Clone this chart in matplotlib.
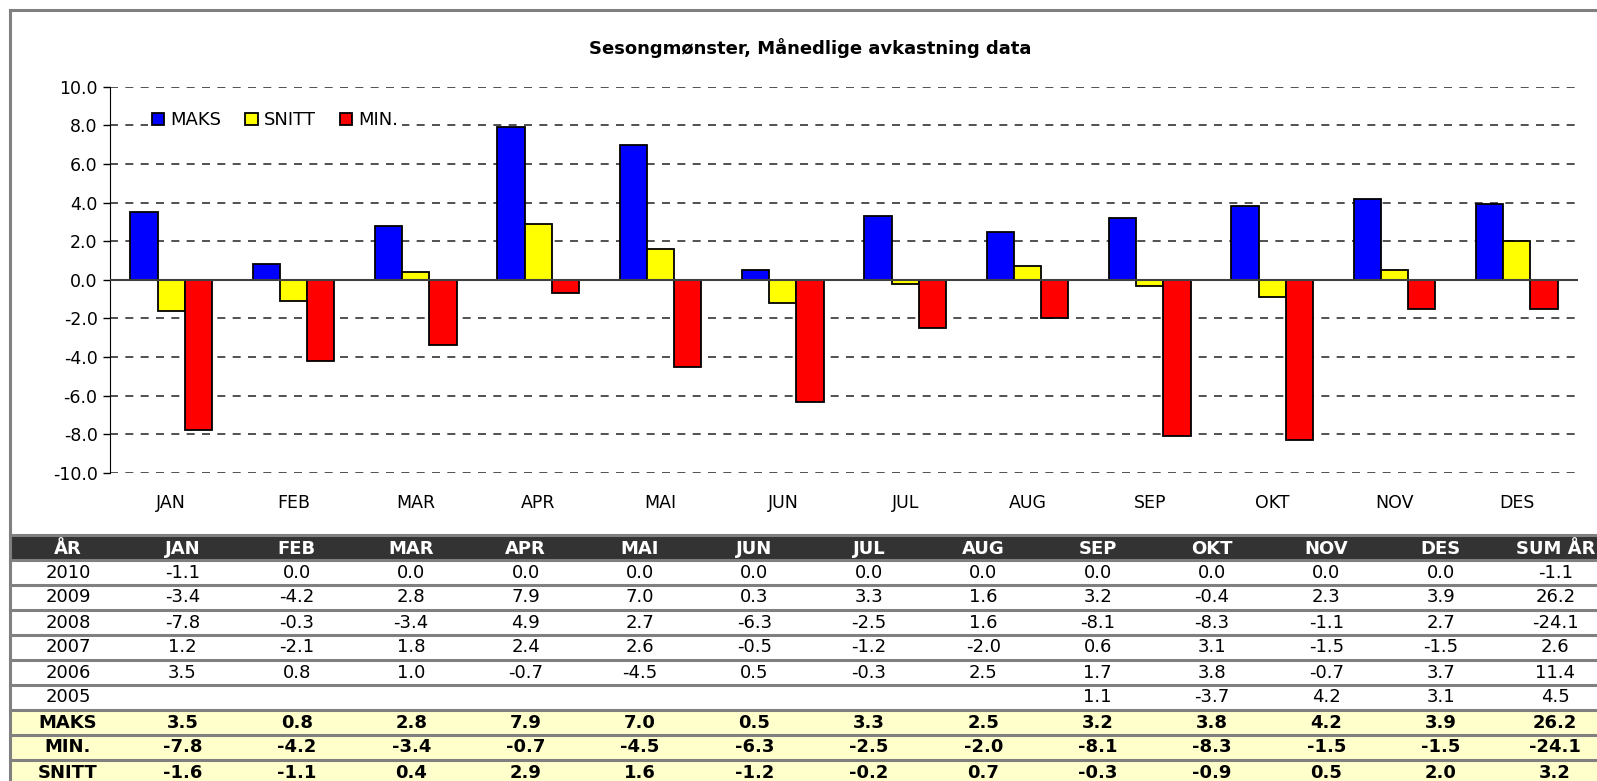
import numpy as np
import matplotlib.pyplot as plt
from matplotlib.lines import Line2D

plt.rcParams['font.family'] = ['DejaVu Sans']

months = ['JAN', 'FEB', 'MAR', 'APR', 'MAI', 'JUN', 'JUL', 'AUG', 'SEP', 'OKT', 'NOV', 'DES']
maks = [3.5, 0.8, 2.8, 7.9, 7.0, 0.5, 3.3, 2.5, 3.2, 3.8, 4.2, 3.9]
snitt = [-1.6, -1.1, 0.4, 2.9, 1.6, -1.2, -0.2, 0.7, -0.3, -0.9, 0.5, 2.0]
mins = [-7.8, -4.2, -3.4, -0.7, -4.5, -6.3, -2.5, -2.0, -8.1, -8.3, -1.5, -1.5]

years = ['2010', '2009', '2008', '2007', '2006', '2005']
year_vals = [
    [-1.1, 0.0, 0.0, 0.0, 0.0, 0.0, 0.0, 0.0, 0.0, 0.0, 0.0, 0.0],
    [-3.4, -4.2, 2.8, 7.9, 7.0, 0.3, 3.3, 1.6, 3.2, -0.4, 2.3, 3.9],
    [-7.8, -0.3, -3.4, 4.9, 2.7, -6.3, -2.5, 1.6, -8.1, -8.3, -1.1, 2.7],
    [1.2, -2.1, 1.8, 2.4, 2.6, -0.5, -1.2, -2.0, 0.6, 3.1, -1.5, -1.5],
    [3.5, 0.8, 1.0, -0.7, -4.5, 0.5, -0.3, 2.5, 1.7, 3.8, -0.7, 3.7],
    [None, None, None, None, None, None, None, None, 1.1, -3.7, 4.2, 3.1],
]
sum_aar = [-1.1, 26.2, -24.1, 2.6, 11.4, 4.5]
sum_stats = [26.2, -24.1, 3.2]
stat_names = ['MAKS', 'MIN.', 'SNITT']

W, H = 1597, 781
fig = plt.figure(figsize=(W / 100, H / 100), dpi=100)

# outer frame (right and bottom are cut off in the reference)
fig.add_artist(Line2D([10 / W, 1], [1 - 10 / H, 1 - 10 / H], color='#808080', lw=2.2))
fig.add_artist(Line2D([10 / W, 10 / W], [0, 1 - 10 / H], color='#808080', lw=2.2))

# ---- bar chart
ax = fig.add_axes([110 / W, 1 - 473 / H, 1468 / W, (473 - 86.6) / H])
x = np.arange(len(months))
w = 0.2225
ax.bar(x - w, maks, w, color='#0000ff', edgecolor='black', lw=1.3, label='MAKS', zorder=3)
ax.bar(x, snitt, w, color='#ffff00', edgecolor='black', lw=1.3, label='SNITT', zorder=3)
ax.bar(x + w, mins, w, color='#ff0000', edgecolor='black', lw=1.3, label='MIN.', zorder=3)

ax.set_xlim(-0.5, 11.5)
ax.set_ylim(-10, 10)
ax.set_yticks(np.arange(-10, 11, 2))
ax.set_yticklabels([f'{v:.1f}' for v in np.arange(-10, 11, 2)], fontsize=12.5)
ax.set_xticks(x)
ax.set_xticklabels(months, fontsize=12.5)
ax.tick_params(axis='x', length=0, pad=15)
ax.tick_params(axis='y', length=5, width=1, direction='out', pad=4)
ax.grid(axis='y', color='#333333', lw=1.2, linestyle=(0, (4.8, 4.4)), zorder=1)
ax.axhline(0, color='#404040', lw=1.5, zorder=4)
for s in ['top', 'right', 'bottom']:
    ax.spines[s].set_visible(False)
ax.spines['left'].set_color('black')

leg = ax.legend(loc='center left', bbox_to_anchor=(0.026, 0.913), ncol=3, fontsize=13,
                frameon=True, handlelength=0.7, handleheight=0.7, handletextpad=0.35,
                columnspacing=1.3, borderpad=0.2, borderaxespad=0)
leg.get_frame().set_edgecolor('none')
leg.get_frame().set_facecolor('white')
leg.get_frame().set_alpha(1)
leg.set_zorder(5)

fig.text(810 / W, 1 - 48 / H, 'Sesongmønster, Månedlige avkastning data',
         ha='center', va='center', fontsize=13, fontweight='bold')

# ---- table below
col0, dcol = 68, 114.4
top, r0, rh = 535, 547.5, 25
tab = fig.add_axes([10 / W, 0, (W - 10) / W, (H - top) / H])
tab.set_xlim((10 - col0) / dcol, (W - col0) / dcol)
tab.set_ylim((H - r0) / rh, (top - r0) / rh)
tab.axis('off')

headers = ['ÅR'] + months + ['SUM ÅR']
nrows = 1 + len(years) + len(stat_names)
tab.axhspan(-0.5, 0.5, color='#333333', zorder=1)
for r in range(len(years) + 1, nrows):
    tab.axhspan(r - 0.5, r + 0.5, color='#ffffcc', zorder=1)
for r in range(nrows + 1):
    tab.axhline(r - 0.5, color='#808080', lw=2.2, zorder=2, clip_on=False)

fs = 13
for c, h in enumerate(headers):
    tab.text(c, 0.05, h, ha='center', va='center', color='white', fontsize=fs,
             fontweight='bold', zorder=3)

for i, yr in enumerate(years):
    r = i + 1
    tab.text(0, r, yr, ha='center', va='center', fontsize=fs, zorder=3)
    for c, v in enumerate(year_vals[i]):
        if v is not None:
            tab.text(c + 1, r, f'{v:.1f}', ha='center', va='center', fontsize=fs, zorder=3)
    tab.text(13, r, f'{sum_aar[i]:.1f}', ha='center', va='center', fontsize=fs, zorder=3)

for i, (name, vals) in enumerate(zip(stat_names, [maks, mins, snitt])):
    r = len(years) + 1 + i
    tab.text(0, r, name, ha='center', va='center', fontsize=fs, fontweight='bold', zorder=3)
    for c, v in enumerate(vals):
        tab.text(c + 1, r, f'{v:.1f}', ha='center', va='center', fontsize=fs,
                 fontweight='bold', zorder=3)
    tab.text(13, r, f'{sum_stats[i]:.1f}', ha='center', va='center', fontsize=fs,
             fontweight='bold', zorder=3)

fig.savefig('out.png', dpi=100)
